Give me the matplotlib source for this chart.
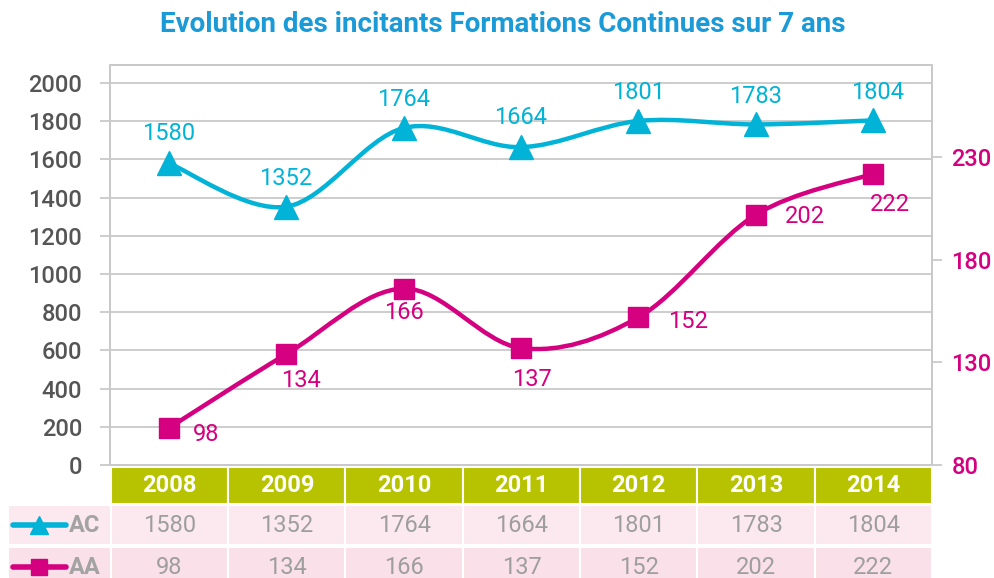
import numpy as np
import matplotlib
matplotlib.use("Agg")
import matplotlib.pyplot as plt
from matplotlib.path import Path
from matplotlib.patches import PathPatch, Rectangle

years = ["2008", "2009", "2010", "2011", "2012", "2013", "2014"]
ac = [1580, 1352, 1764, 1664, 1801, 1783, 1804]
aa = [98, 134, 166, 137, 152, 202, 222]
left_ticks = [0, 200, 400, 600, 800, 1000, 1200, 1400, 1600, 1800, 2000]
right_ticks = [80, 130, 180, 230]

# label offsets in pixels (dx, dy)
ac_off = [(0, 30), (0, 28), (0, 29), (0, 30), (0, 28), (0, 28), (4, 28)]
aa_off = [(37, -6), (15, -26), (0, -24), (11, -31), (50, -4), (49, -2), (17, -31)]

CYAN = "#00b3d7"
MAG = "#d4007f"
OLIVE = "#b7c300"
GRID = "#c9c9c9"
TXT = "#555555"
TGRAY = "#a3a3a3"
FONT = "Roboto"

plt.rcParams["font.family"] = [FONT, "DejaVu Sans"]

W, H = 994, 578
fig = plt.figure(figsize=(W / 100, H / 100), dpi=100)

def px(l, t, r, b):
    return [l / W, 1 - b / H, (r - l) / W, (b - t) / H]

ax = fig.add_axes(px(110, 65, 932, 465))
ax2 = ax.twinx()
x = np.arange(len(years))


def smooth(axis, xs, ys, color):
    pts = np.column_stack([xs, ys]).astype(float)
    n = len(pts)
    verts = [pts[0]]
    codes = [Path.MOVETO]
    for i in range(n - 1):
        p0 = pts[max(i - 1, 0)]
        p1 = pts[i]
        p2 = pts[i + 1]
        p3 = pts[min(i + 2, n - 1)]
        c1 = p1 + (p2 - p0) / 6.0
        c2 = p2 - (p3 - p1) / 6.0
        verts += [c1, c2, p2]
        codes += [Path.CURVE4] * 3
    axis.add_patch(PathPatch(Path(verts, codes), fill=False, edgecolor=color,
                             lw=3.2, capstyle="round", joinstyle="round", zorder=3))


ax.set_xlim(-0.5, 6.5)
ax.set_ylim(0, 2094)
ax2.set_ylim(80, 275)

smooth(ax, x, ac, CYAN)
ax.plot(x, ac, linestyle="none", marker="^", ms=17, color=CYAN, zorder=4)
smooth(ax2, x, aa, MAG)
ax2.plot(x, aa, linestyle="none", marker="s", ms=15, color=MAG, zorder=4)

for i in range(len(x)):
    ax.annotate(str(ac[i]), (x[i], ac[i]), xytext=(ac_off[i][0] * 0.72, ac_off[i][1] * 0.72),
                textcoords="offset points", ha="center", va="center",
                color=CYAN, fontsize=17, zorder=5)
    ax2.annotate(str(aa[i]), (x[i], aa[i]), xytext=(aa_off[i][0] * 0.72, aa_off[i][1] * 0.72),
                 textcoords="offset points", ha="center", va="center",
                 color=MAG, fontsize=17, zorder=5)

ax.set_yticks(left_ticks)
ax.set_yticklabels([str(v) for v in left_ticks], fontsize=17, color=TXT, fontweight="medium")
ax.set_xticks([])
ax.grid(axis="y", color=GRID, lw=1.3)
ax.set_axisbelow(True)
ax.tick_params(axis="y", length=7, width=1.3, color=GRID, pad=13)
ax2.set_yticks(right_ticks)
ax2.set_yticklabels([str(v) for v in right_ticks], fontsize=17, color=MAG, fontweight="medium")
ax2.tick_params(axis="y", length=7, width=1.3, color=GRID, pad=7)
for a in (ax, ax2):
    for s in a.spines.values():
        s.set_color(GRID)
        s.set_linewidth(1.3)

fig.text(503 / W, 1 - 24 / H, "Evolution des incitants Formations Continues sur 7 ans",
         ha="center", va="center", fontsize=20, fontweight="bold", color="#1a9ad7")

# data table below the plot
tab = fig.add_axes(px(8, 467, 932, 578))
lab_w = 103 / 117.43
tab.set_xlim(-0.5 - lab_w, 6.5)
tab.set_ylim(111, 0)
tab.axis("off")

rows = [("AC", ac, CYAN, "^", "#fce9ef", 38, 40), ("AA", aa, MAG, "s", "#fae0e8", 80, 40)]
for i, yr in enumerate(years):
    tab.add_patch(Rectangle((i - 0.5, 0), 1, 37, facecolor=OLIVE, edgecolor="white", lw=1.5))
    tab.text(i, 19, yr, ha="center", va="center", color="white",
             fontsize=17, fontweight="bold")
for name, vals, col, mk, bg, y0, h in rows:
    tab.add_patch(Rectangle((-0.5 - lab_w, y0), lab_w, h, facecolor=bg, edgecolor="white", lw=1.5))
    for i, v in enumerate(vals):
        tab.add_patch(Rectangle((i - 0.5, y0), 1, h, facecolor=bg, edgecolor="white", lw=1.5))
        tab.text(i, y0 + 20, str(v), ha="center", va="center", color="#9e9e9e",
                 fontsize=17)
    lx0 = -0.5 - lab_w + 5 / 117.43
    lx1 = -0.5 - lab_w + 58 / 117.43
    tab.plot([lx0, lx1], [y0 + 20, y0 + 20], color=col, lw=4, solid_capstyle="round")
    tab.plot([(lx0 + lx1) / 2], [y0 + 20], marker=mk, ms=13 if mk == "^" else 12,
             color=col, linestyle="none")
    tab.text(lx1 + 3 / 117.43, y0 + 20, name, ha="left", va="center", color=TGRAY,
             fontsize=17, fontweight="bold")

fig.savefig("out.png", dpi=100)
